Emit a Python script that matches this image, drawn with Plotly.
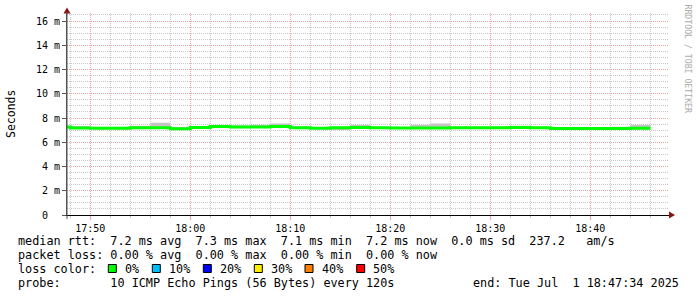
import pandas as pd
import plotly.graph_objects as go

# ---------------- data ----------------
bucket_start = "2025-07-01 17:46:00"
n_buckets = 30
step = "120s"
median_ms = [7.25, 7.18, 7.15, 7.15, 7.20, 7.20, 7.12, 7.22, 7.30, 7.25,
             7.25, 7.30, 7.20, 7.16, 7.20, 7.22, 7.20, 7.18, 7.18, 7.18,
             7.20, 7.20, 7.20, 7.22, 7.20, 7.13, 7.13, 7.13, 7.13, 7.15]
smoke_hi = [7.30, 7.35, 7.22, 7.22, 7.36, 7.60, 7.25, 7.30, 7.35, 7.38,
            7.45, 7.55, 7.30, 7.22, 7.25, 7.45, 7.25, 7.24, 7.45, 7.55,
            7.30, 7.28, 7.30, 7.36, 7.25, 7.25, 7.20, 7.20, 7.28, 7.45]
smoke_lo = [7.15, 7.10, 7.08, 7.08, 7.12, 7.12, 7.05, 7.12, 7.20, 7.15,
            7.18, 7.20, 7.12, 7.08, 7.02, 7.12, 7.12, 7.10, 7.10, 7.10,
            7.12, 7.12, 7.12, 7.12, 7.12, 7.05, 7.06, 7.06, 7.06, 7.08]

y_tickvals = [0, 2, 4, 6, 8, 10, 12, 14, 16]
y_ticktext = ["0\u00a0\u00a0", "2 m", "4 m", "6 m", "8 m", "10 m", "12 m", "14 m", "16 m"]

legend_lines = [
    "median rtt:  7.2 ms avg  7.3 ms max  7.1 ms min  7.2 ms now  0.0 ms sd  237.2   am/s",
    "packet loss: 0.00 % avg  0.00 % max  0.00 % min  0.00 % now",
    "loss color:",
    "probe:       10 ICMP Echo Pings (56 Bytes) every 120s",
]
end_text = "end: Tue Jul  1 18:47:34 2025"
loss_labels = ["0%", "10%", "20%", "30%", "40%", "50%"]
loss_colors = ["#00ff00", "#00bfff", "#0000ff", "#ffee00", "#ff8000", "#ff0000"]

x_start = "2025-07-01 17:47:40"
x_end = "2025-07-01 18:47:52"
y_top = 16.66

# ---------------- figure ----------------
W, H = 697, 297
L, R, T, B = 67, 28, 13, 82
PW, PH = W - L - R, H - T - B


def px(xp):
    return (xp - L) / PW


def py(yp):
    return (H - B - yp) / PH


times = pd.date_range(bucket_start, periods=n_buckets + 1, freq=step)
xs = list(times)
med = median_ms + [median_ms[-1]]
hi = smoke_hi + [smoke_hi[-1]]
lo = smoke_lo + [smoke_lo[-1]]

MONO = "DejaVu Sans Mono"
fig = go.Figure()
fig.add_trace(go.Scatter(x=xs, y=lo, mode="lines", line=dict(width=0, shape="hv"),
                         hoverinfo="skip"))
fig.add_trace(go.Scatter(x=xs, y=hi, mode="lines", line=dict(width=0, shape="hv"),
                         fill="tonexty", fillcolor="#c4c4c4", hoverinfo="skip"))
fig.add_trace(go.Scatter(x=xs, y=med, mode="lines",
                         line=dict(width=3, shape="hv", color="#00ff00")))

GRID_MAJ = "#f2a0a0"
GRID_MIN = "#c8c8c8"

fig.update_layout(
    width=W, height=H, autosize=False,
    margin=dict(l=L, r=R, t=T, b=B, pad=0),
    paper_bgcolor="white", plot_bgcolor="white",
    showlegend=False,
    font=dict(family=MONO, size=10, color="#000000"),
    xaxis=dict(
        type="date", range=[x_start, x_end],
        tick0="2025-07-01 17:50:00", dtick=600000, tickformat="%H:%M",
        showgrid=True, gridcolor=GRID_MAJ, griddash="1px,1px", gridwidth=1,
        ticks="outside", ticklen=4, tickcolor=GRID_MAJ,
        showline=True, linecolor="#000000", linewidth=1,
        zeroline=False,
        tickfont=dict(family=MONO, size=10, color="#000000"),
        minor=dict(dtick=120000, tick0="2025-07-01 17:50:00", showgrid=True,
                   gridcolor=GRID_MIN, griddash="1px,1px", ticks="outside",
                   ticklen=2, tickcolor=GRID_MIN),
    ),
    yaxis=dict(
        range=[0, y_top], tickvals=y_tickvals, ticktext=y_ticktext,
        showgrid=True, gridcolor=GRID_MAJ, griddash="1px,1px", gridwidth=1,
        ticks="outside", ticklen=4, tickcolor="#555555",
        showline=True, linecolor="#555555", linewidth=1,
        zeroline=False,
        tickfont=dict(family=MONO, size=10, color="#000000"),
        minor=dict(dtick=0.5, tick0=0, showgrid=True, gridcolor=GRID_MIN,
                   griddash="1px,1px"),
    ),
)

annotations = []
LEG_FONT = dict(family=MONO, size=11.8, color="#000000")
line_y = [241.5, 255.3, 269.2, 283.0]
for txt, yy in zip(legend_lines, line_y):
    annotations.append(dict(text=txt.replace(" ", "\u00a0"), x=px(16), y=py(yy),
                            xref="paper", yref="paper", xanchor="left", yanchor="middle",
                            showarrow=False, font=LEG_FONT))
annotations.append(dict(text=end_text.replace(" ", "\u00a0"), x=px(681), y=py(283.0),
                        xref="paper", yref="paper", xanchor="right", yanchor="middle",
                        showarrow=False, font=LEG_FONT))

box_x = [108.3, 152.3, 203.3, 254.3, 305.0, 356.7]
shapes = []
for bx, lab, col in zip(box_x, loss_labels, loss_colors):
    shapes.append(dict(type="rect", xref="paper", yref="paper",
                       x0=px(bx), x1=px(bx + 8), y0=py(264.5), y1=py(272.5),
                       fillcolor=col, line=dict(color="#000000", width=1)))
    annotations.append(dict(text=lab, x=px(bx + 14.5), y=py(269.2), xref="paper", yref="paper",
                            xanchor="left", yanchor="middle", showarrow=False, font=LEG_FONT))

annotations.append(dict(text="Seconds", x=px(11), y=py(114), xref="paper", yref="paper",
                        xanchor="center", yanchor="middle", textangle=-90, showarrow=False,
                        font=dict(family=MONO, size=11.5, color="#000000")))
annotations.append(dict(text="RRDTOOL / TOBI OETIKER", x=px(687.5), y=py(59), xref="paper",
                        yref="paper", xanchor="center", yanchor="middle", textangle=90,
                        showarrow=False, font=dict(family=MONO, size=8.2, color="#aaaaaa")))

ARROW = "#8b1010"


def tri(pts):
    p = " L ".join(f"{px(a):.5f},{py(b):.5f}" for a, b in pts)
    return "M " + p + " Z"


shapes.append(dict(type="path", xref="paper", yref="paper",
                   path=tri([(63.5, 13.5), (70.5, 13.5), (67, 7.5)]),
                   fillcolor=ARROW, line=dict(width=0), layer="above"))
shapes.append(dict(type="path", xref="paper", yref="paper",
                   path=tri([(669, 211.5), (669, 218.5), (675, 215)]),
                   fillcolor=ARROW, line=dict(width=0), layer="above"))
shapes.append(dict(type="line", xref="paper", yref="paper",
                   x0=px(67), x1=px(67), y0=py(219), y1=py(12),
                   line=dict(color="#555555", width=1)))

fig.update_layout(annotations=annotations, shapes=shapes)
fig.write_html("out.html")
